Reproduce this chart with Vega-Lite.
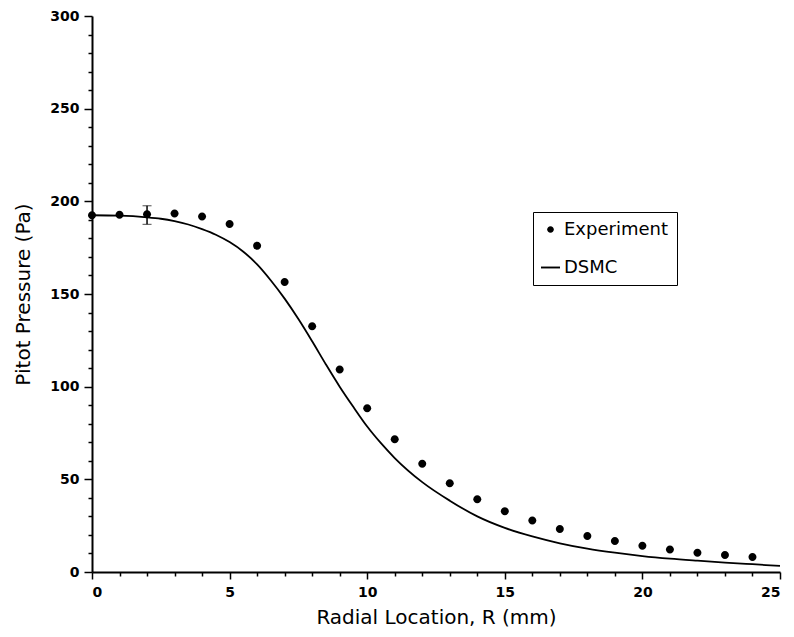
{
  "$schema": "https://vega.github.io/schema/vega-lite/v6.json",
  "width": 688,
  "height": 556,
  "autosize": {"type": "none"},
  "padding": {"left": 92, "top": 16, "right": 14, "bottom": 65},
  "background": "white",
  "config": {
    "view": {"stroke": null},
    "font": "DejaVu Sans",
    "axis": {
      "grid": false,
      "domainColor": "black",
      "domainWidth": 2,
      "tickColor": "black",
      "tickWidth": 1.5,
      "labelColor": "black",
      "labelFont": "DejaVu Sans",
      "labelFontSize": 14,
      "labelFontWeight": "bold",
      "labelOverlap": false,
      "titleColor": "black",
      "titleFont": "DejaVu Sans",
      "titleFontSize": 20,
      "titleFontWeight": "normal"
    }
  },
  "datasets": {
    "experiment": [
      {"r": 0, "p": 192.5, "series": "Experiment"},
      {"r": 1, "p": 192.7, "series": "Experiment"},
      {"r": 2, "p": 193.0, "series": "Experiment"},
      {"r": 3, "p": 193.5, "series": "Experiment"},
      {"r": 4, "p": 191.8, "series": "Experiment"},
      {"r": 5, "p": 187.8, "series": "Experiment"},
      {"r": 6, "p": 176.1, "series": "Experiment"},
      {"r": 7, "p": 156.5, "series": "Experiment"},
      {"r": 8, "p": 132.6, "series": "Experiment"},
      {"r": 9, "p": 109.2, "series": "Experiment"},
      {"r": 10, "p": 88.3, "series": "Experiment"},
      {"r": 11, "p": 71.6, "series": "Experiment"},
      {"r": 12, "p": 58.4, "series": "Experiment"},
      {"r": 13, "p": 47.9, "series": "Experiment"},
      {"r": 14, "p": 39.2, "series": "Experiment"},
      {"r": 15, "p": 32.8, "series": "Experiment"},
      {"r": 16, "p": 27.8, "series": "Experiment"},
      {"r": 17, "p": 23.2, "series": "Experiment"},
      {"r": 18, "p": 19.4, "series": "Experiment"},
      {"r": 19, "p": 16.7, "series": "Experiment"},
      {"r": 20, "p": 14.2, "series": "Experiment"},
      {"r": 21, "p": 12.2, "series": "Experiment"},
      {"r": 22, "p": 10.4, "series": "Experiment"},
      {"r": 23, "p": 9.2, "series": "Experiment"},
      {"r": 24, "p": 8.1, "series": "Experiment"}
    ],
    "dsmc": [
      {"r": 0, "p": 192.5},
      {"r": 1, "p": 192.3},
      {"r": 2, "p": 191.4},
      {"r": 2.5, "p": 190.6},
      {"r": 3, "p": 189.3},
      {"r": 3.5, "p": 187.5},
      {"r": 4, "p": 185.0},
      {"r": 4.5, "p": 182.0},
      {"r": 5, "p": 178.0},
      {"r": 5.5, "p": 172.8},
      {"r": 6, "p": 166.0},
      {"r": 6.5, "p": 157.3},
      {"r": 7, "p": 147.5},
      {"r": 7.5, "p": 136.5},
      {"r": 8, "p": 124.5},
      {"r": 8.5, "p": 112.0},
      {"r": 9, "p": 100.0},
      {"r": 9.5, "p": 89.0},
      {"r": 10, "p": 78.5},
      {"r": 10.5, "p": 69.5},
      {"r": 11, "p": 61.5},
      {"r": 12, "p": 48.5},
      {"r": 13, "p": 38.5},
      {"r": 14, "p": 30.0},
      {"r": 15, "p": 23.8},
      {"r": 16, "p": 19.2},
      {"r": 17, "p": 15.5},
      {"r": 18, "p": 12.6},
      {"r": 19, "p": 10.4},
      {"r": 20, "p": 8.6},
      {"r": 21, "p": 7.2},
      {"r": 22, "p": 6.1},
      {"r": 23, "p": 5.1},
      {"r": 24, "p": 4.2},
      {"r": 25, "p": 3.3}
    ],
    "errbar": [
      {"r": 2, "p": 187.6, "p2": 197.6}
    ]
  },
  "encoding": {
    "x": {
      "field": "r", "type": "quantitative",
      "scale": {"domain": [0, 25], "nice": false, "zero": false},
      "axis": {
        "title": "Radial Location, R (mm)",
        "values": [0,1,2,3,4,5,6,7,8,9,10,11,12,13,14,15,16,17,18,19,20,21,22,23,24,25],
        "labelExpr": "datum.value % 5 === 0 ? datum.label : ''",
        "tickSize": {"condition": {"test": "datum.value % 5 === 0", "value": 7}, "value": 4},
        "labelPadding": 6,
        "titlePadding": 8
      }
    },
    "y": {
      "field": "p", "type": "quantitative",
      "scale": {"domain": [0, 300], "nice": false},
      "axis": {
        "title": "Pitot Pressure (Pa)",
        "values": [0,10,20,30,40,50,60,70,80,90,100,110,120,130,140,150,160,170,180,190,200,210,220,230,240,250,260,270,280,290,300],
        "labelExpr": "datum.value % 50 === 0 ? datum.label : ''",
        "tickSize": {"condition": {"test": "datum.value % 50 === 0", "value": 8}, "value": 4},
        "labelPadding": 5,
        "titlePadding": 16
      }
    }
  },
  "layer": [
    {
      "data": {"name": "dsmc"},
      "mark": {"type": "line", "color": "black", "strokeWidth": 1.8, "interpolate": "monotone"},
      "encoding": {}
    },
    {
      "data": {"name": "errbar"},
      "mark": {"type": "errorbar", "color": "black", "ticks": {"size": 9, "strokeWidth": 1.5}, "rule": {"strokeWidth": 1.5}},
      "encoding": {
        "y2": {"field": "p2"}
      }
    },
    {
      "data": {"name": "experiment"},
      "mark": {"type": "point", "filled": true, "color": "black", "size": 522, "opacity": 1},
      "encoding": {
        "shape": {
          "field": "series", "type": "nominal",
          "scale": {
            "domain": ["Experiment", "DSMC"],
            "range": [
              "M0,-0.35A0.35,0.35 0 1,1 0,0.35A0.35,0.35 0 1,1 0,-0.35Z",
              "M-1,-0.1L1,-0.1L1,0.1L-1,0.1Z"
            ]
          },
          "legend": {
            "title": null,
            "orient": "none",
            "legendX": 441,
            "legendY": 196,
            "direction": "vertical",
            "strokeColor": "black",
            "padding": 8,
            "rowPadding": 19,
            "labelFont": "DejaVu Sans",
            "labelFontSize": 18,
            "labelColor": "black",
            "labelOffset": 4,
            "symbolFillColor": "black",
            "symbolStrokeColor": "black",
            "symbolStrokeWidth": 0,
            "symbolSize": 361
          }
        }
      }
    }
  ]
}
